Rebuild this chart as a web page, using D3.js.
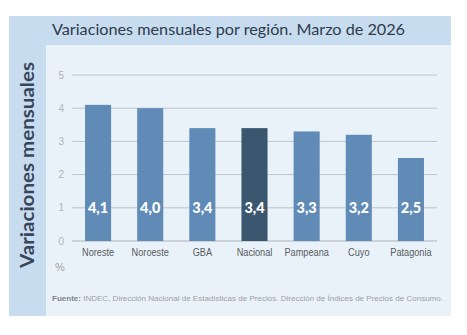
<!DOCTYPE html>
<html><head><meta charset="utf-8">
<script src="https://cdn.jsdelivr.net/npm/d3@7"></script>
<style>body{margin:0;background:#fff}svg{display:block}</style>
</head><body>
<script>
const categories = ["Noreste","Noroeste","GBA","Nacional","Pampeana","Cuyo","Patagonia"];
const values = [4.1,4.0,3.4,3.4,3.3,3.2,2.5];
const labels = ["4,1","4,0","3,4","3,4","3,3","3,2","2,5"];
const yTicks = [0,1,2,3,4,5];
const highlight = "Nacional";

const W=467,H=335;
const svg=d3.select("body").append("svg").attr("width",W).attr("height",H);
svg.append("rect").attr("x",9).attr("y",16).attr("width",442).attr("height",300).attr("fill","#c7dcef");
svg.append("rect").attr("x",46).attr("y",45).attr("width",405).attr("height",271).attr("fill","#eaf2f9");
svg.append("text").attr("x",52).attr("y",35).text("Variaciones mensuales por región. Marzo de 2026")
  .attr("font-family","Lato, 'Open Sans', sans-serif").attr("font-size",15.2).attr("fill","#2f3b4b")
  .attr("textLength",353).attr("lengthAdjust","spacingAndGlyphs");

const x=d3.scaleBand().domain(categories).range([72,437]).paddingInner(0.5).paddingOuter(0.25);
const y=d3.scaleLinear().domain([0,5]).range([241,75]);

const g=svg.append("g");
g.selectAll("line.grid").data(yTicks).enter().append("line")
  .attr("x1",72).attr("x2",437).attr("y1",d=>y(d)).attr("y2",d=>y(d))
  .attr("stroke",d=>d===0?"#a9b0b8":"#bcc3ca").attr("stroke-width",1);
g.selectAll("text.tick").data(yTicks).enter().append("text")
  .attr("x",64).attr("y",d=>y(d)+3.5).attr("text-anchor","end").text(d=>d)
  .attr("font-family","Arial, sans-serif").attr("font-size",10).attr("fill","#b0b4b8");

g.selectAll("rect.bar").data(categories).enter().append("rect")
  .attr("x",d=>x(d)).attr("width",x.bandwidth())
  .attr("y",(d,i)=>y(values[i])).attr("height",(d,i)=>y(0)-y(values[i]))
  .attr("fill",d=>d===highlight?"#3b566f":"#5f8bb6");

g.selectAll("text.val").data(categories).enter().append("text")
  .attr("x",d=>x(d)+x.bandwidth()/2).attr("y",y(1)+5.5).attr("text-anchor","middle")
  .text((d,i)=>labels[i]).attr("font-family","Lato, sans-serif").attr("font-weight","900")
  .attr("font-size",14.5).attr("fill","#fff");

g.selectAll("text.cat").data(categories).enter().append("text")
  .attr("transform",d=>`translate(${x(d)+x.bandwidth()/2},256) scale(0.85,1)`).attr("text-anchor","middle").text(d=>d)
  .attr("font-family","Arial, 'Liberation Sans', sans-serif").attr("font-size",10.8).attr("fill","#555b61");

svg.append("text").attr("x",55).attr("y",271).text("%")
  .attr("font-family","Arial, sans-serif").attr("font-size",11).attr("fill","#a0a4a8");

svg.append("text").attr("transform","translate(34,165) rotate(-90)").attr("text-anchor","middle")
  .text("Variaciones mensuales").attr("font-family","Lato, sans-serif").attr("font-weight","bold")
  .attr("font-size",19).attr("fill","#38465a").attr("textLength",206).attr("lengthAdjust","spacingAndGlyphs");

const f=svg.append("text").attr("x",52).attr("y",301).attr("font-family","Arial, 'Liberation Sans', sans-serif")
  .attr("font-size",7.2).attr("fill","#9aa0a6").attr("textLength",391).attr("lengthAdjust","spacingAndGlyphs");
f.append("tspan").attr("font-weight","bold").attr("fill","#7d848b").text("Fuente:");
f.append("tspan").text(" INDEC, Dirección Nacional de Estadísticas de Precios. Dirección de Índices de Precios de Consumo.");
</script>
</body></html>
